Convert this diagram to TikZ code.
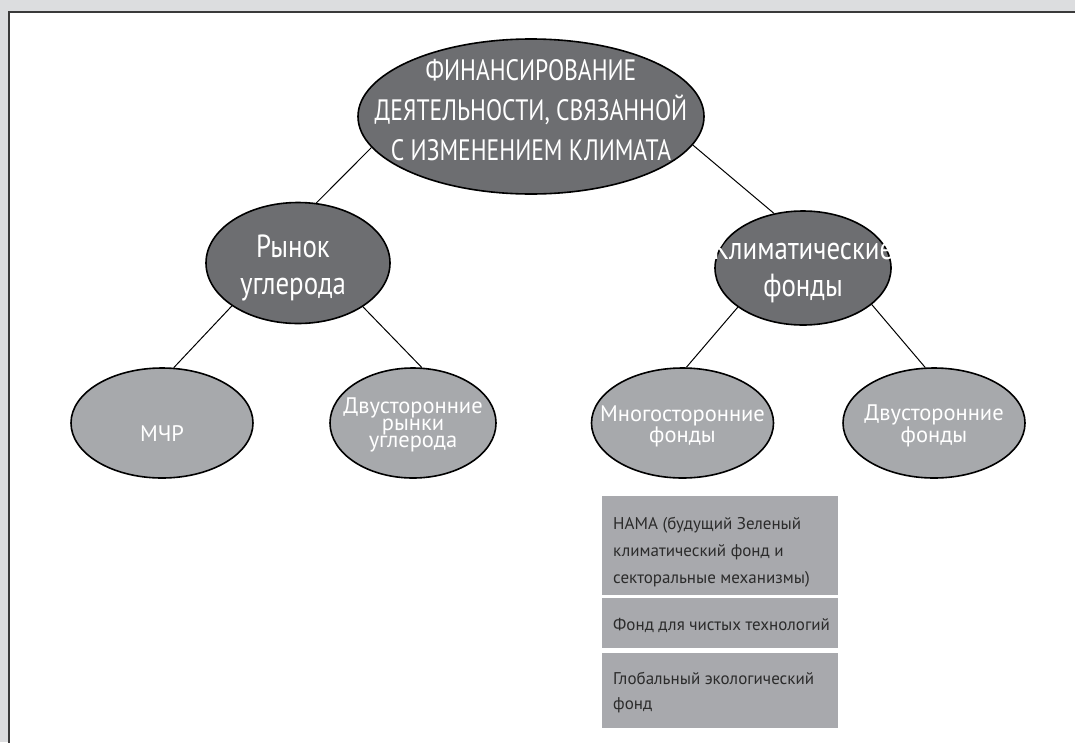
\documentclass[tikz,border=0pt]{standalone}
\usepackage{fontspec}
\setmainfont{PT Sans}
\newfontfamily\condfont[FakeStretch=0.80]{PT Sans}
\newfontfamily\midfont[FakeStretch=0.84]{PT Sans}
\usetikzlibrary{shapes.geometric}
\definecolor{bgray}{HTML}{DCDDDF}
\definecolor{darkell}{HTML}{6D6E71}
\definecolor{lightell}{HTML}{A7A9AC}
\definecolor{boxfill}{HTML}{A8A9AD}
\definecolor{boxtext}{HTML}{2B2B2B}
\definecolor{framecol}{HTML}{3A3A3A}
\tikzset{
  darknode/.style={ellipse, draw=black, line width=1.6pt, fill=darkell, inner sep=0pt},
  lightnode/.style={ellipse, draw=black, line width=1.6pt, fill=lightell, inner sep=0pt,
     minimum width=182pt, minimum height=110pt},
  toptext/.style={text=white, align=center, inner sep=0pt, font=\condfont\fontsize{29.5}{40}\selectfont},
  midtext/.style={text=white, align=center, inner sep=0pt, font=\midfont\fontsize{32}{37}\selectfont},
  lowtext/.style={text=white, align=center, inner sep=0pt, font=\fontsize{22.5}{16}\selectfont},
  boxrect/.style={rectangle, fill=boxfill, draw=none, anchor=north west, inner sep=0pt,
     minimum width=236pt},
  boxtxt/.style={anchor=north west, align=left, inner sep=0pt, text=boxtext,
     font=\fontsize{17}{27}\selectfont},
  link/.style={draw=black, line width=1pt}
}
\begin{document}
\begin{tikzpicture}[x=1pt,y=-1pt]
\useasboundingbox (0,0) rectangle (1075,742);
\fill[bgray] (0,0) rectangle (1075,742);
\fill[white] (9,12) rectangle (1080,750);
\draw[framecol, line width=2.4pt] (9.2,760) -- (9.2,12.2) -- (1090,12.2);

\node[darknode, minimum width=346pt, minimum height=155pt,
  label={[toptext, yshift=6pt]center:{ФИНАНСИРОВАНИЕ\\ДЕЯТЕЛЬНОСТИ, СВЯЗАННОЙ\\С ИЗМЕНЕНИЕМ КЛИМАТА}}]
  (top) at (531,116.5) {};

\node[darknode, minimum width=184pt, minimum height=121pt,
  label={[midtext, xshift=-5pt, yshift=-4.5pt]center:{Рынок\\углерода}}] (market) at (298,263) {};
\node[darknode, minimum width=176pt, minimum height=114pt,
  label={[midtext, yshift=-2pt]center:{Климатические\\фонды}}] (funds) at (803,268) {};

\node[lightnode, label={[lowtext, yshift=-10.5pt]center:{МЧР}}] (cdm) at (162,423) {};
\node[lightnode, minimum width=166pt, label={[lowtext, yshift=-2pt]center:{Двусторонние\\рынки\\углерода}}] (bimarket) at (413,423) {};
\node[lightnode, label={[lowtext, yshift=-3pt]center:{Многосторонние\\фонды}}] (multi) at (682.5,423) {};
\node[lightnode, label={[lowtext, yshift=-3pt]center:{Двусторонние\\фонды}}] (bifunds) at (934,423) {};

\draw[link] (top.191) -- (market.73);
\draw[link] (top.350) -- (funds.118);
\draw[link] (market.213) -- (cdm.78);
\draw[link] (market.326) -- (bimarket.81);
\draw[link] (funds.211) -- (multi.86);
\draw[link] (funds.332) -- (bifunds.99);

\node[boxrect, minimum height=99pt] (nama) at (602,496) {};
\node[boxrect, minimum height=50pt] (ctf) at (602,598) {};
\node[boxrect, minimum height=75pt] (gef) at (602,653) {};

\node[boxtxt] (namatxt) at (613,517) {НАМА (будущий Зеленый\\климатический фонд и\\секторальные механизмы)};
\node[boxtxt] (ctftxt) at (613,618) {Фонд для чистых технологий};
\node[boxtxt, font=\fontsize{17}{25}\selectfont] (geftxt) at (613,672) {Глобальный экологический\\фонд};
\end{tikzpicture}
\end{document}
